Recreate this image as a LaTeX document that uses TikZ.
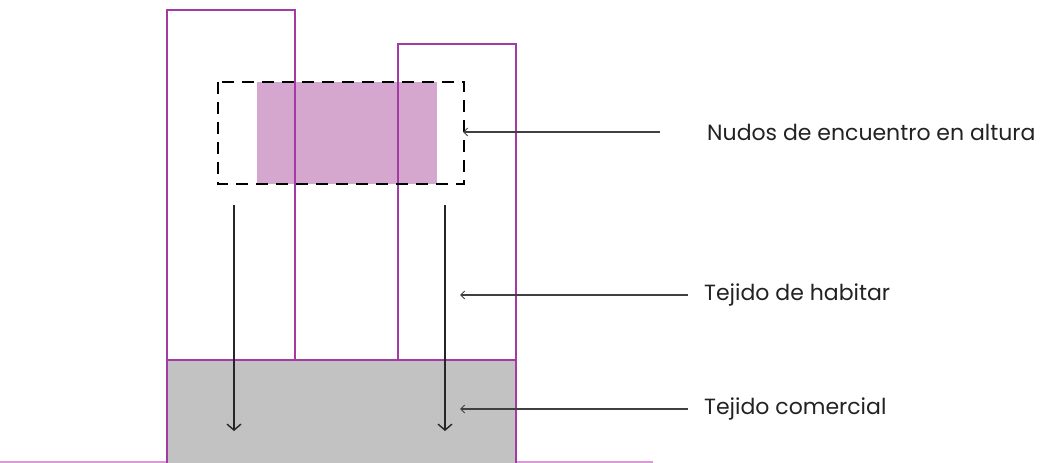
\documentclass[tikz,border=0pt]{standalone}
\usepackage{fontspec}
\setmainfont{Poppins}
\usetikzlibrary{arrows.meta}
\definecolor{bldg}{HTML}{A43AA6}
\definecolor{nodo}{HTML}{D5A7CE}
\definecolor{comercio}{HTML}{C2C2C2}
\definecolor{ground}{HTML}{D99BD6}
\definecolor{lbl}{HTML}{222222}
\tikzset{
  building/.style={draw=bldg, line width=1.8pt},
  flow/.style={draw=black!85, line width=1.4pt, -{Straight Barb[length=6pt,width=14pt,line width=1.4pt]}},
  pointer/.style={draw=black!75, line width=1.1pt, -{Straight Barb[length=4pt,width=8pt,line width=1pt]}},
  lab/.style={anchor=west, text=lbl, font=\fontsize{22}{26}\selectfont, inner sep=0pt},
}
\begin{document}
\begin{tikzpicture}[x=1pt,y=-1pt]
\useasboundingbox (0,0) rectangle (1055,463);
% ground line
\coordinate (g1) at (0,462);
\coordinate (g2) at (653,462);
\draw[ground, line width=1.2pt] (g1) -- (g2);
% commercial base
\fill[comercio] (167,360) rectangle (516,463);
% pink node
\fill[nodo] (257,82) rectangle (437,184);
% buildings
\draw[building] (167,360) -- (167,10) -- (295,10) -- (295,360);
\draw[building] (398,360) -- (398,44) -- (516,44) -- (516,463);
\draw[building] (167,463) -- (167,360) -- (516,360);
% dashed frame
\draw[black, line width=1.8pt, dash pattern=on 12pt off 8pt] (218,82) rectangle (464,184);
% flow arrows
\coordinate (a1s) at (234,205); \coordinate (a1e) at (234,431);
\coordinate (a2s) at (445,205); \coordinate (a2e) at (445,431);
\draw[flow] (a1s) -- (a1e);
\draw[flow] (a2s) -- (a2e);
% labels
\node[lab] (l1) at (707,132) {Nudos de encuentro en altura};
\node[lab] (l2) at (704,295) {Tejido de habitar};
\node[lab] (l3) at (704,409) {Tejido comercial};
\coordinate (p1) at (463,132);
\coordinate (p2) at (460,295);
\coordinate (p3) at (460,409);
\draw[pointer] (l1.west) ++(-47pt,0) -- (p1);
\draw[pointer] (l2.west) ++(-16pt,0) -- (p2);
\draw[pointer] (l3.west) ++(-16pt,0) -- (p3);
\end{tikzpicture}
\end{document}
